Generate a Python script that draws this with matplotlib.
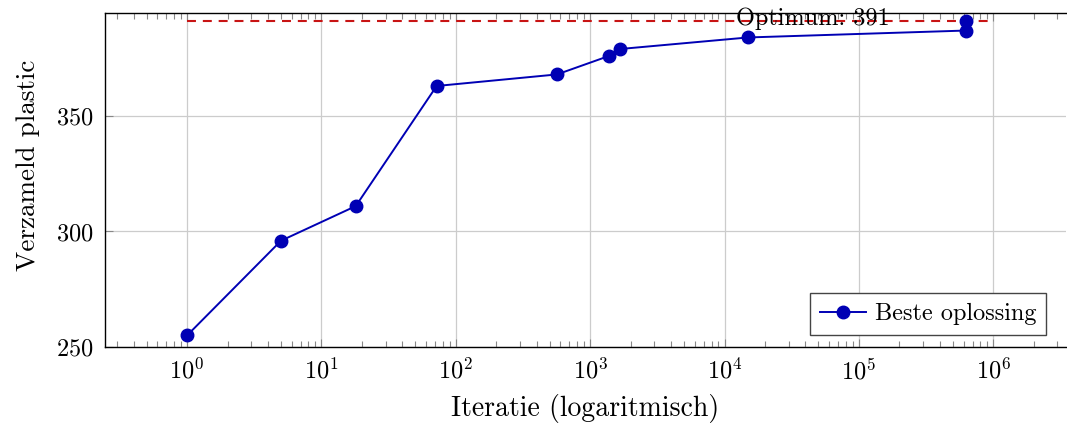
import matplotlib
matplotlib.use("Agg")
import matplotlib.pyplot as plt
import numpy as np
from matplotlib.ticker import LogLocator, NullFormatter

plt.rcParams['font.family'] = 'cmr10'
plt.rcParams['mathtext.fontset'] = 'cm'
plt.rcParams['axes.formatter.use_mathtext'] = True

# best solution per iteration
iterations = [1, 5, 18, 72, 566, 1380, 1665, 14900, 625000, 625000]
collected = [255, 296, 311, 363, 368, 376, 379, 384, 387, 391]
optimum = 391
optimumLabel = "Optimum: 391"
legendLabel = "Beste oplossing"

blue = '#0000b4'
red = '#c81414'

fig = plt.figure(figsize=(10.67, 4.23), dpi=100)
ax = fig.add_axes([0.0984, 0.1797, 0.9006, 0.7896])

ax.plot([1, 1e6], [optimum, optimum], color=red, lw=1.5, ls=(0, (4.3, 3.3)), zorder=2)
ax.plot(iterations, collected, color=blue, lw=1.4, marker='o', ms=9,
        label=legendLabel, zorder=3)
ax.text(4.5e4, optimum + 1.0, optimumLabel, ha='center', va='center', fontsize=17.5, zorder=4)

ax.set_xscale('log')
ax.set_xlim(0.245, 3.47e6)
ax.set_ylim(250, 394.6)
ax.set_yticks([250, 300, 350])
ax.xaxis.set_major_locator(LogLocator(base=10, numticks=20))
ax.xaxis.set_minor_locator(LogLocator(base=10, subs=np.arange(2, 10), numticks=20))
ax.xaxis.set_minor_formatter(NullFormatter())

ax.grid(True, which='major', color='#cccccc', lw=0.9, zorder=0)
ax.tick_params(axis='both', which='major', direction='in', length=6, color='#888888',
               labelsize=17.5, top=True, right=False, pad=8)
ax.tick_params(axis='x', which='minor', direction='in', length=4, color='#888888',
               top=True, width=0.8)
ax.spines['right'].set_visible(False)
for s in ['left', 'bottom', 'top']:
    ax.spines[s].set_linewidth(1.0)

ax.set_xlabel("Iteratie (logaritmisch)", fontsize=20, labelpad=7)
ax.set_ylabel("Verzameld plastic", fontsize=19.5, labelpad=12)
ax.yaxis.set_label_coords(-0.068, 0.545)

leg = ax.legend(loc='lower right', fontsize=17.5, fancybox=False, framealpha=1,
                edgecolor='#444444', borderpad=0.4, handlelength=1.9,
                handletextpad=0.35, borderaxespad=0, bbox_to_anchor=(0.979, 0.036))
leg.get_frame().set_linewidth(1.0)

fig.savefig("out.png", dpi=100)
